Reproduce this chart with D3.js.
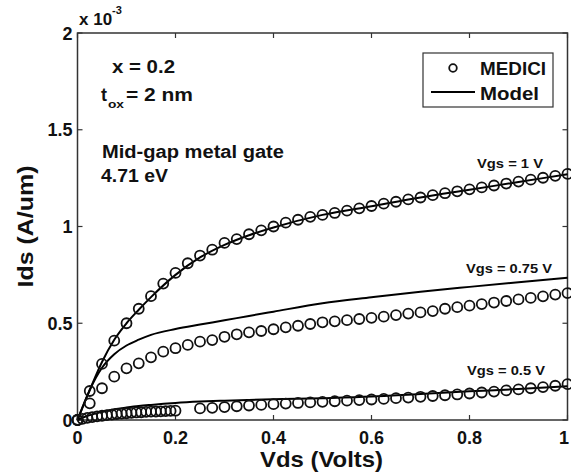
<!DOCTYPE html>
<html><head><meta charset="utf-8">
<script src="https://cdn.jsdelivr.net/npm/d3@7"></script>
<style>
body{margin:0;background:#fff;}
text{font-family:"Liberation Sans",Arial,sans-serif;font-weight:bold;fill:#111;}
</style></head>
<body><svg id="c" width="571" height="475"></svg>
<script>
// MEDICI data (Ids in units of 1e-3 A/um)
const vdsMed = d3.range(0, 1.0001, 0.025).map(v => +v.toFixed(3));
const medici1 = [0,0.15,0.29,0.41,0.50,0.575,0.64,0.705,0.76,0.81,0.85,0.88,0.915,0.935,0.96,0.98,1.00,1.02,1.035,1.05,1.06,1.07,1.082,1.094,1.106,1.118,1.128,1.14,1.15,1.162,1.172,1.182,1.192,1.202,1.212,1.222,1.232,1.242,1.252,1.262,1.272];
const medici075 = [0,0.086,0.164,0.224,0.267,0.293,0.324,0.353,0.371,0.388,0.405,0.413,0.43,0.443,0.453,0.46,0.469,0.479,0.487,0.496,0.505,0.51,0.516,0.522,0.528,0.534,0.542,0.55,0.556,0.563,0.575,0.583,0.591,0.599,0.607,0.615,0.623,0.631,0.639,0.648,0.656];
const vdsMed05 = [0,0.01,0.02,0.03,0.04,0.05,0.06,0.07,0.08,0.09,0.1,0.11,0.12,0.13,0.14,0.15,0.16,0.17,0.18,0.19,0.2,
  0.25,0.275,0.3,0.325,0.35,0.375,0.4,0.425,0.45,0.475,0.5,0.525,0.55,0.575,0.6,0.625,0.65,0.675,0.7,0.725,0.75,0.775,0.8,0.825,0.85,0.875,0.9,0.925,0.95,0.975,1.0];
const medici05 = [0,0.006,0.011,0.015,0.019,0.022,0.025,0.028,0.031,0.033,0.035,0.037,0.039,0.04,0.042,0.043,0.044,0.045,0.046,0.047,0.048,
  0.06,0.063,0.067,0.071,0.075,0.078,0.082,0.085,0.088,0.091,0.094,0.097,0.1,0.103,0.106,0.109,0.113,0.116,0.12,0.124,0.128,0.132,0.137,0.142,0.147,0.153,0.158,0.164,0.17,0.177,0.185];
// Model curves
const vdsModel = [0,0.0125,0.025,0.05,0.075,0.1,0.125,0.15,0.2,0.25,0.3,0.35,0.4,0.5,0.6,0.7,0.8,0.9,1.0];
const model1   = [0,0.08,0.155,0.3,0.415,0.5,0.57,0.635,0.75,0.84,0.905,0.955,0.995,1.06,1.105,1.15,1.19,1.23,1.27];
const model075 = [0,0.08,0.155,0.27,0.34,0.385,0.415,0.44,0.47,0.493,0.515,0.538,0.56,0.603,0.634,0.663,0.688,0.712,0.735];
const model05  = [0,0.014,0.025,0.042,0.055,0.064,0.072,0.078,0.088,0.095,0.1,0.104,0.107,0.113,0.121,0.135,0.148,0.16,0.175];
const xTicks = [0,0.2,0.4,0.6,0.8,1];
const yTicks = [0,0.5,1,1.5,2];
const xTickLabels = ["0","0.2","0.4","0.6","0.8","1"];
const yTickLabels = ["0","0.5","1","1.5","2"];

const svg = d3.select("#c");
const L=77.5, R=567.5, T=33, B=420;
const x = d3.scaleLinear().domain([0,1]).range([L,R]);
const y = d3.scaleLinear().domain([0,2]).range([B,T]);

function txt(xp, yp, size, s, len){
  const t = svg.append("text").attr("x",xp).attr("y",yp).attr("font-size",size).text(s);
  if(len) t.attr("textLength",len).attr("lengthAdjust","spacingAndGlyphs");
  return t;
}

// frame
svg.append("rect").attr("x",L).attr("y",T).attr("width",R-L).attr("height",B-T)
  .attr("fill","none").attr("stroke","#333").attr("stroke-width",1.5);
// ticks inside
const tl=5;
const g = svg.append("g").attr("stroke","#333").attr("stroke-width",1.2);
xTicks.forEach(t=>{
  g.append("line").attr("x1",x(t)).attr("x2",x(t)).attr("y1",B).attr("y2",B-tl);
  g.append("line").attr("x1",x(t)).attr("x2",x(t)).attr("y1",T).attr("y2",T+tl);
});
yTicks.forEach(t=>{
  g.append("line").attr("y1",y(t)).attr("y2",y(t)).attr("x1",L).attr("x2",L+tl);
  g.append("line").attr("y1",y(t)).attr("y2",y(t)).attr("x1",R).attr("x2",R-tl);
});
// tick labels
xTicks.forEach((t,i)=>{
  svg.append("text").attr("x",Math.min(x(t),564)).attr("y",444).attr("text-anchor","middle")
    .attr("font-size",18).text(xTickLabels[i]);
});
yTicks.forEach((t,i)=>{
  svg.append("text").attr("x",L-5).attr("y",y(t)+6.5).attr("text-anchor","end")
    .attr("font-size",18).text(yTickLabels[i]);
});
// exponent
const ex = svg.append("text").attr("x",79).attr("y",25).attr("font-size",17).attr("font-weight","normal");
ex.append("tspan").text("x 10");
ex.append("tspan").attr("dy",-11).attr("font-size",11).text("-3");

// axis titles
svg.append("text").attr("x",321.5).attr("y",467).attr("text-anchor","middle").attr("font-size",22)
  .attr("textLength",123).attr("lengthAdjust","spacingAndGlyphs").text("Vds (Volts)");
svg.append("text").attr("transform","translate(33,"+((T+B)/2)+") rotate(-90)").attr("text-anchor","middle")
  .attr("font-size",22).attr("textLength",122).attr("lengthAdjust","spacingAndGlyphs").text("Ids (A/um)");

// model lines
const line = d3.line().x(d=>x(d[0])).y(d=>y(d[1])).curve(d3.curveMonotoneX);
[model1,model075,model05].forEach(m=>{
  svg.append("path").attr("d",line(vdsModel.map((v,i)=>[v,m[i]])))
    .attr("fill","none").attr("stroke","#000").attr("stroke-width",2);
});
// MEDICI circles
function circles(xs,ys){
  svg.append("g").selectAll("circle").data(xs.map((v,i)=>[v,ys[i]])).join("circle")
    .attr("cx",d=>x(d[0])).attr("cy",d=>y(d[1])).attr("r",5)
    .attr("fill","none").attr("stroke","#111").attr("stroke-width",1.8);
}
circles(vdsMed,medici1);
circles(vdsMed,medici075);
circles(vdsMed05,medici05);

// annotations
txt(112,73,18,"x = 0.2",63);
txt(101,101,18,"t");
txt(108,108,11,"ox",16);
txt(126,101,18,"= 2 nm",67);
txt(102,158,18,"Mid-gap metal gate",182);
txt(101,182,18,"4.71 eV",67);
txt(477,168,13,"Vgs = 1 V",66);
txt(466,273,13,"Vgs = 0.75 V",86);
txt(467,375,13,"Vgs = 0.5 V",78);

// legend
svg.append("rect").attr("x",423).attr("y",53).attr("width",130).attr("height",54)
  .attr("fill","#fff").attr("stroke","#333").attr("stroke-width",1.2);
svg.append("circle").attr("cx",453).attr("cy",68).attr("r",3.8).attr("fill","none").attr("stroke","#111").attr("stroke-width",1.8);
txt(480,75,18,"MEDICI",66);
svg.append("line").attr("x1",431).attr("x2",475).attr("y1",92).attr("y2",92).attr("stroke","#000").attr("stroke-width",2);
txt(480,100,18,"Model",59);
</script></body></html>
